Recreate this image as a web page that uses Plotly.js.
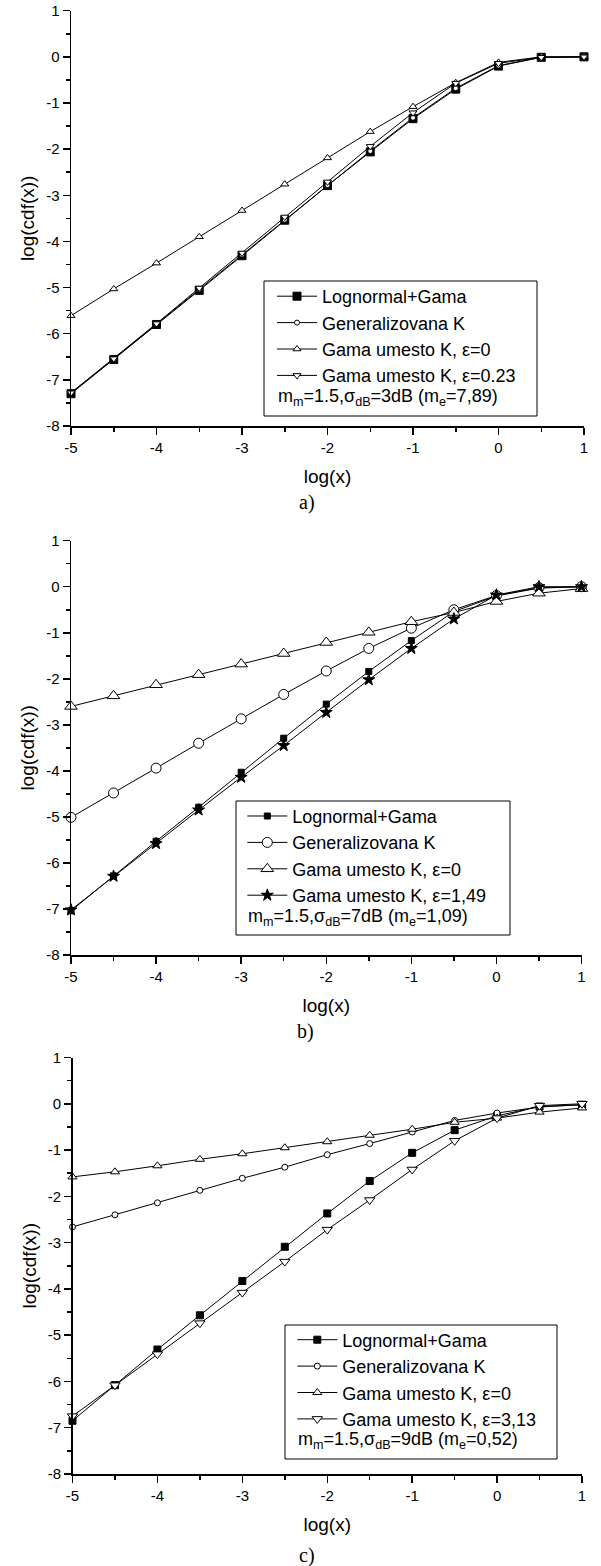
<!DOCTYPE html>
<html><head><meta charset="utf-8">
<script src="https://cdn.plot.ly/plotly-3.0.1.min.js"></script>
<style>html,body{margin:0;padding:0;background:#fff}#chart{width:601px;height:1566px}</style>
</head><body><div id="chart"></div>
<script>
// ---- data ----
const xVals = [-5,-4.5,-4,-3.5,-3,-2.5,-2,-1.5,-1,-0.5,0,0.5,1];
const xTickVals = [-5,-4,-3,-2,-1,0,1];
const xTickText = ['-5','-4','-3','-2','-1','0','1'];
const yTickVals = [-8,-7,-6,-5,-4,-3,-2,-1,0,1];
const yTickText = ['-8','-7','-6','-5','-4','-3','-2','-1','0','1'];

const seriesNames = ['Lognormal+Gama','Generalizovana K','Gama umesto K, ε=0'];
const epsNames = ['Gama umesto K, ε=0.23','Gama umesto K, ε=1,49','Gama umesto K, ε=3,13'];
const paramTexts = [
  'm<sub>m</sub>=1.5,σ<sub>dB</sub>=3dB (m<sub>e</sub>=7,89)',
  'm<sub>m</sub>=1.5,σ<sub>dB</sub>=7dB (m<sub>e</sub>=1,09)',
  'm<sub>m</sub>=1.5,σ<sub>dB</sub>=9dB (m<sub>e</sub>=0,52)'
];
const captions = ['a)','b)','c)'];

const aLognormal = [-7.30,-6.56,-5.80,-5.06,-4.31,-3.54,-2.79,-2.06,-1.34,-0.70,-0.20,-0.01,0.00];
const aGenK      = [-7.28,-6.55,-5.79,-5.04,-4.29,-3.53,-2.78,-2.04,-1.32,-0.68,-0.19,-0.01,0.00];
const aGama0     = [-5.61,-5.03,-4.47,-3.90,-3.33,-2.76,-2.19,-1.62,-1.08,-0.56,-0.12,0.00,0.00];
const aGamaEps   = [-7.28,-6.54,-5.78,-5.01,-4.25,-3.47,-2.71,-1.94,-1.21,-0.57,-0.14,-0.01,0.00];

const bLognormal = [-7.04,-6.28,-5.53,-4.79,-4.03,-3.29,-2.55,-1.84,-1.17,-0.54,-0.20,-0.03,0.00];
const bGenK      = [-5.01,-4.48,-3.94,-3.40,-2.87,-2.34,-1.83,-1.34,-0.90,-0.50,-0.19,-0.02,0.00];
const bGama0     = [-2.60,-2.37,-2.13,-1.91,-1.68,-1.45,-1.21,-0.99,-0.76,-0.56,-0.32,-0.14,-0.04];
const bGamaEps   = [-7.02,-6.29,-5.58,-4.85,-4.14,-3.45,-2.73,-2.02,-1.34,-0.70,-0.18,0.00,0.00];

const cLognormal = [-6.85,-6.08,-5.31,-4.57,-3.83,-3.09,-2.37,-1.67,-1.06,-0.57,-0.26,-0.06,-0.02];
const cGenK      = [-2.66,-2.40,-2.14,-1.87,-1.61,-1.37,-1.10,-0.86,-0.61,-0.36,-0.20,-0.07,-0.02];
const cGama0     = [-1.58,-1.47,-1.34,-1.20,-1.08,-0.95,-0.82,-0.68,-0.55,-0.40,-0.31,-0.18,-0.09];
const cGamaEps   = [-6.75,-6.08,-5.41,-4.74,-4.08,-3.41,-2.72,-2.08,-1.42,-0.80,-0.31,-0.04,0.00];

// ---- layout helpers ----
const W = 601, H = 1566;
const px = p => p / W;
const py = p => 1 - p / H;
const FONT = 'Liberation Sans, Arial, Helvetica, sans-serif';

function mk(sym, size, fill){ return {symbol: sym, size: size, color: fill, line: {color: 'black', width: 1}}; }
function tr(y, name, marker, xa, ya, leg){
  return {x: xVals, y: y, name: name, type: 'scatter', mode: 'lines+markers',
          line: {color: 'black', width: 1}, marker: marker, xaxis: xa, yaxis: ya,
          legend: leg, cliponaxis: false, hoverinfo: 'skip'};
}

const data = [
  tr(aLognormal, seriesNames[0], mk('square', 8, 'black'), 'x', 'y', 'legend'),
  tr(aGenK, seriesNames[1], mk('circle', 5, 'white'), 'x', 'y', 'legend'),
  tr(aGama0, seriesNames[2], mk('triangle-up', 7, 'white'), 'x', 'y', 'legend'),
  tr(aGamaEps, epsNames[0], mk('triangle-down', 7, 'white'), 'x', 'y', 'legend'),

  tr(bLognormal, seriesNames[0], mk('square', 6, 'black'), 'x2', 'y2', 'legend2'),
  tr(bGenK, seriesNames[1], mk('circle', 10, 'white'), 'x2', 'y2', 'legend2'),
  tr(bGama0, seriesNames[2], mk('triangle-up', 11, 'white'), 'x2', 'y2', 'legend2'),
  tr(bGamaEps, epsNames[1], mk('star', 9, 'black'), 'x2', 'y2', 'legend2'),

  tr(cLognormal, seriesNames[0], mk('square', 7, 'black'), 'x3', 'y3', 'legend3'),
  tr(cGenK, seriesNames[1], mk('circle', 6, 'white'), 'x3', 'y3', 'legend3'),
  tr(cGama0, seriesNames[2], mk('triangle-up', 8, 'white'), 'x3', 'y3', 'legend3'),
  tr(cGamaEps, epsNames[2], mk('triangle-down', 9, 'white'), 'x3', 'y3', 'legend3')
];

function xax(l, r, anchor){
  return {domain: [px(l), px(r)], range: [-5, 1], anchor: anchor, showline: true, linecolor: 'black', linewidth: 1.5,
    ticks: 'outside', ticklen: 7, tickwidth: 1.5, tickcolor: 'black', tickmode: 'array',
    tickvals: xTickVals, ticktext: xTickText, showgrid: false, zeroline: false,
    minor: {ticks: 'outside', dtick: 0.5, tick0: 0, ticklen: 4, tickwidth: 1.5, tickcolor: 'black', showgrid: false},
    tickfont: {size: 15, color: 'black'}, title: {text: 'log(x)', font: {size: 19, color: 'black'}, standoff: 15},
    fixedrange: true, automargin: false};
}
function yax(t, b, anchor){
  return {domain: [py(b), py(t)], range: [-8, 1], anchor: anchor, showline: true, linecolor: 'black', linewidth: 1.5,
    ticks: 'outside', ticklen: 7, tickwidth: 1.5, tickcolor: 'black', tickmode: 'array',
    tickvals: yTickVals, ticktext: yTickText, showgrid: false, zeroline: false,
    minor: {ticks: 'outside', dtick: 0.5, tick0: 0, ticklen: 4, tickwidth: 1.5, tickcolor: 'black', showgrid: false},
    tickfont: {size: 15, color: 'black'}, title: {text: 'log(cdf(x))', font: {size: 19, color: 'black'}, standoff: 6},
    fixedrange: true, automargin: false};
}
function leg(l, t){
  return {x: px(l), y: py(t), xanchor: 'left', yanchor: 'top', bgcolor: 'rgba(0,0,0,0)', borderwidth: 0,
          font: {size: 18, color: 'black', family: FONT}, itemwidth: 40, tracegroupgap: 0};
}
function box(l, r, t, b){
  return {type: 'rect', xref: 'paper', yref: 'paper', x0: px(l), x1: px(r), y0: py(b), y1: py(t),
          line: {color: 'black', width: 1}, fillcolor: 'rgba(0,0,0,0)'};
}
function note(text, l, c){
  return {text: text, xref: 'paper', yref: 'paper', x: px(l), y: py(c), xanchor: 'left', yanchor: 'middle',
          showarrow: false, font: {size: 18, color: 'black', family: FONT}, borderpad: 0};
}
function cap(text, c, m){
  return {text: text, xref: 'paper', yref: 'paper', x: px(c), y: py(m), xanchor: 'center', yanchor: 'middle',
          showarrow: false, font: {size: 20, color: 'black', family: 'Liberation Serif, Times New Roman, serif'}, borderpad: 0};
}

const layout = {
  width: W, height: H, autosize: false,
  margin: {l: 0, r: 0, t: 0, b: 0, pad: 0},
  paper_bgcolor: 'white', plot_bgcolor: 'white',
  font: {family: FONT, color: 'black'},
  showlegend: true,
  xaxis: xax(71, 584, 'y'), yaxis: yax(10.7, 426, 'x'),
  xaxis2: xax(71, 581.5, 'y2'), yaxis2: yax(540.7, 955, 'x2'),
  xaxis3: xax(72.5, 582, 'y3'), yaxis3: yax(1057.5, 1474, 'x3'),
  legend: leg(272, 278),
  legend2: leg(242.3, 797.8),
  legend3: leg(292.3, 1321.5),
  shapes: [box(264, 537, 281, 416), box(236, 510, 801, 935), box(285, 557, 1325, 1459)],
  annotations: [
    note(paramTexts[0], 276.7, 397), note(paramTexts[1], 247.3, 917), note(paramTexts[2], 297.3, 1440),
    cap(captions[0], 307, 502), cap(captions[1], 305, 1031), cap(captions[2], 307, 1555)
  ]
};

Plotly.newPlot('chart', data, layout, {displayModeBar: false, staticPlot: true});
</script>
</body></html>
